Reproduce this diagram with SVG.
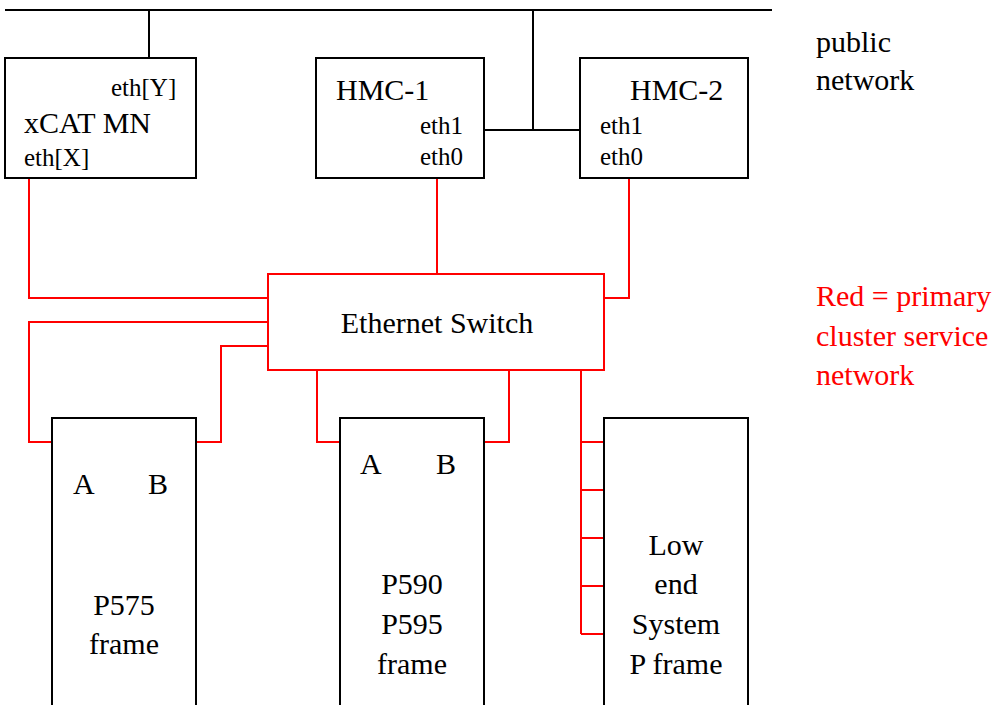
<svg xmlns="http://www.w3.org/2000/svg" width="994" height="705" viewBox="0 0 994 705">
<style>
.box{fill:#fff;stroke:#000;stroke-width:2}
.rbox{fill:#fff;stroke:#ff0000;stroke-width:2}
.blk{fill:none;stroke:#000;stroke-width:2}
.red{fill:none;stroke:#ff0000;stroke-width:2}
text{font-family:"Liberation Serif","Times New Roman",serif;fill:#000}
.big{font-size:30px}
.sm{font-size:25px}
.c{text-anchor:middle}
.rt{fill:#ff0000}
</style>
<rect width="994" height="705" fill="#fff"/>
<g id="connectors">
<path class="blk" d="M5 10H772"/>
<path class="blk" d="M149 10V58"/>
<path class="blk" d="M533 10V130M484 130H580"/>
<path class="red" d="M29 178V298H268"/>
<path class="red" d="M268 322H29V442H52"/>
<path class="red" d="M268 346H221V442H196"/>
<path class="red" d="M437 178V274"/>
<path class="red" d="M629 178V298H604"/>
<path class="red" d="M317 370V442H340"/>
<path class="red" d="M509 370V442H484"/>
<path class="red" d="M581 370V634M581 442H604M581 490H604M581 538H604M581 586H604M581 634H604"/>
</g>
<g id="xcat">
<rect class="box" x="5" y="58" width="191" height="120"/>
<text class="sm" x="111" y="96">eth[Y]</text>
<text class="big" x="24" y="133">xCAT MN</text>
<text class="sm" x="24" y="166">eth[X]</text>
</g>
<g id="hmc1">
<rect class="box" x="316" y="58" width="168" height="120"/>
<text class="big" x="336" y="100">HMC-1</text>
<text class="sm" x="420" y="134">eth1</text>
<text class="sm" x="420" y="165">eth0</text>
</g>
<g id="hmc2">
<rect class="box" x="580" y="58" width="168" height="120"/>
<text class="big" x="630" y="100">HMC-2</text>
<text class="sm" x="600" y="134">eth1</text>
<text class="sm" x="600" y="165">eth0</text>
</g>
<g id="switch">
<rect class="rbox" x="268" y="274" width="336" height="96"/>
<text class="big c" x="437" y="333">Ethernet Switch</text>
</g>
<g id="p575">
<path class="box" d="M52 706V418H196V706"/>
<text class="big" x="73" y="494">A</text>
<text class="big" x="148" y="494">B</text>
<text class="big c" x="124" y="615">P575</text>
<text class="big c" x="124" y="654">frame</text>
</g>
<g id="p590">
<path class="box" d="M340 706V418H484V706"/>
<text class="big" x="360" y="474">A</text>
<text class="big" x="436" y="474">B</text>
<text class="big c" x="412" y="594">P590</text>
<text class="big c" x="412" y="634">P595</text>
<text class="big c" x="412" y="674">frame</text>
</g>
<g id="lowend">
<path class="box" d="M604 706V418H748V706"/>
<text class="big c" x="676" y="555">Low</text>
<text class="big c" x="676" y="594">end</text>
<text class="big c" x="676" y="634">System</text>
<text class="big c" x="676" y="674">P frame</text>
</g>
<g id="legend">
<text class="big" x="816" y="52">public</text>
<text class="big" x="816" y="90">network</text>
<text class="big rt" x="816" y="306">Red = primary</text>
<text class="big rt" x="816" y="346">cluster service</text>
<text class="big rt" x="816" y="385">network</text>
</g>
</svg>
